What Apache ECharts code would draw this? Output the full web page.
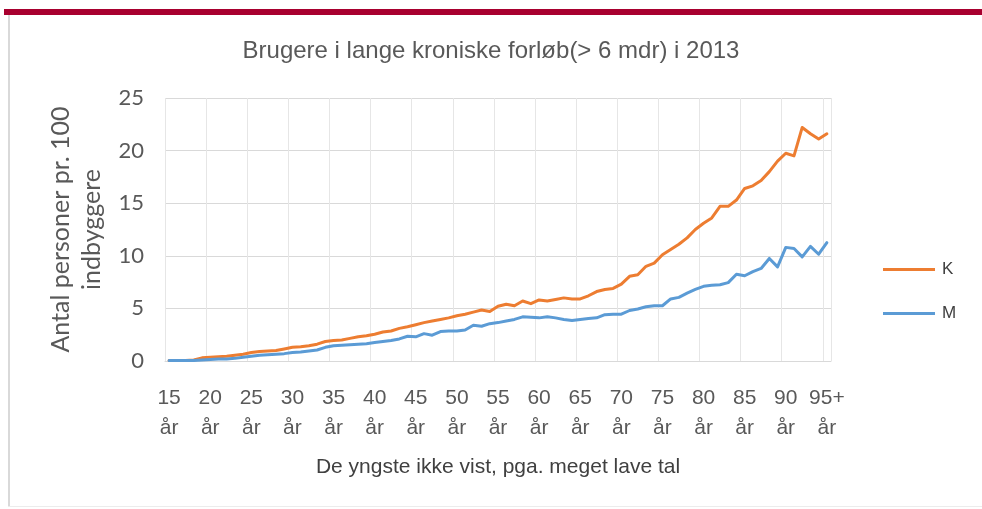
<!DOCTYPE html>
<html>
<head>
<meta charset="utf-8">
<script src="https://cdn.jsdelivr.net/npm/echarts@6/dist/echarts.min.js"></script>
<style>
html,body{margin:0;padding:0;background:#fff;}
#c{width:982px;height:509px;}
</style>
</head>
<body>
<div id="c"></div>
<script>
// Ages 15..95 (95 = "95+")
const ages = [15,16,17,18,19,20,21,22,23,24,25,26,27,28,29,30,31,32,33,34,35,36,37,38,39,40,41,42,43,44,45,46,47,48,49,50,51,52,53,54,55,56,57,58,59,60,61,62,63,64,65,66,67,68,69,70,71,72,73,74,75,76,77,78,79,80,81,82,83,84,85,86,87,88,89,90,91,92,93,94,95];
const categories = ages.map(a => (a === 95 ? '95+' : String(a)) + '\når');

const seriesK = [0.05,0.05,0.05,0.1,0.3,0.35,0.4,0.45,0.55,0.65,
  0.8,0.9,0.95,1.0,1.15,1.3,1.35,1.45,1.6,1.85,
  1.95,2.0,2.15,2.3,2.4,2.55,2.75,2.85,3.1,3.25,
  3.45,3.65,3.8,3.95,4.1,4.3,4.45,4.65,4.85,4.7,
  5.2,5.4,5.25,5.7,5.45,5.8,5.7,5.85,6.0,5.9,
  5.9,6.2,6.6,6.8,6.9,7.3,8.05,8.2,9.0,9.3,
  10.1,10.6,11.1,11.7,12.5,13.1,13.6,14.7,14.7,15.3,
  16.4,16.65,17.15,18.0,19.0,19.75,19.5,22.2,21.6,21.1,21.6];

const seriesM = [0.05,0.05,0.05,0.05,0.1,0.15,0.2,0.2,0.25,0.35,
  0.45,0.55,0.6,0.65,0.7,0.8,0.85,0.95,1.05,1.3,
  1.45,1.5,1.55,1.6,1.65,1.75,1.85,1.95,2.1,2.35,
  2.3,2.6,2.45,2.8,2.85,2.85,2.95,3.4,3.3,3.55,
  3.65,3.8,3.95,4.2,4.15,4.1,4.2,4.1,3.95,3.85,
  3.95,4.05,4.1,4.4,4.45,4.45,4.8,4.95,5.15,5.25,
  5.25,5.9,6.05,6.45,6.8,7.1,7.2,7.25,7.45,8.25,
  8.1,8.5,8.8,9.75,8.95,10.8,10.7,9.9,10.9,10.15,11.25];

const yTicks = [0,5,10,15,20,25];

const chart = echarts.init(document.getElementById('c'), null, {renderer:'canvas'});
chart.setOption({
  backgroundColor:'#ffffff',
  animation:false,
  title:{
    text:'Brugere i lange kroniske forløb(> 6 mdr) i 2013',
    left:'center', top:34,
    textStyle:{fontFamily:'Liberation Sans', fontSize:24, fontWeight:'normal', color:'#595959'}
  },
  graphic:[
    {type:'rect', shape:{x:4,y:9,width:978,height:6}, style:{fill:'#a8002f'}},
    {type:'rect', shape:{x:8,y:15,width:2,height:492}, style:{fill:'#d9d9d9'}},
    {type:'rect', shape:{x:8,y:506,width:974,height:1}, style:{fill:'#ececec'}}
  ],
  legend:{
    orient:'vertical', left:878, top:256,
    icon:'rect', itemWidth:52, itemHeight:3, itemGap:27,
    textStyle:{fontFamily:'Liberation Sans', fontSize:17, color:'#404040', padding:[0,0,0,2]},
    data:['K','M']
  },
  grid:{left:165, right:151, top:98, bottom:148, containLabel:false},
  xAxis:{
    type:'category', data:categories, boundaryGap:true,
    axisLine:{show:true, lineStyle:{color:'#d9d9d9', width:1}},
    axisTick:{show:false},
    axisLabel:{interval:4, fontFamily:'Liberation Sans', fontSize:21, color:'#595959', lineHeight:30, margin:22},
    splitLine:{show:true, interval:4, lineStyle:{color:'#e6e6e6', width:1}},
    name:'De yngste ikke vist, pga. meget lave tal',
    nameLocation:'middle', nameGap:96,
    nameTextStyle:{fontFamily:'Liberation Sans', fontSize:21, color:'#404040'}
  },
  yAxis:{
    type:'value', min:0, max:25, interval:5,
    axisLine:{show:false}, axisTick:{show:false},
    axisLabel:{fontFamily:'Lato', fontSize:22, color:'#595959', margin:21},
    splitLine:{show:true, lineStyle:{color:'#d9d9d9', width:1}},
    name:'Antal personer pr. 100\nindbyggere',
    nameLocation:'middle', nameGap:58, nameRotate:90,
    nameTextStyle:{fontFamily:'Lato', fontSize:25, color:'#595959', lineHeight:31}
  },
  series:[
    {name:'K', type:'line', data:seriesK, showSymbol:false, symbol:'none',
     lineStyle:{color:'#ed7d31', width:3, cap:'round', join:'round'}, itemStyle:{color:'#ed7d31'}},
    {name:'M', type:'line', data:seriesM, showSymbol:false, symbol:'none',
     lineStyle:{color:'#5b9bd5', width:3, cap:'round', join:'round'}, itemStyle:{color:'#5b9bd5'}}
  ]
});
</script>
</body>
</html>
